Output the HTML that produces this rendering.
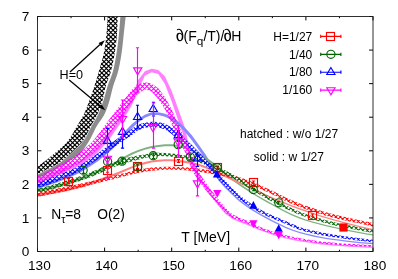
<!DOCTYPE html>
<html><head><meta charset="utf-8"><title>chart</title>
<style>
html,body{margin:0;padding:0;background:#fff;}
body{width:398px;height:279px;overflow:hidden;}
svg{display:block;will-change:transform;}
text{font-family:"Liberation Sans",sans-serif;fill:#000;}
</style></head><body>
<svg width="398" height="279" viewBox="0 0 398 279">
<defs>
<clipPath id="plot"><rect x="37.5" y="16.5" width="335.5" height="235"/></clipPath>
</defs>
<rect width="398" height="279" fill="#fff"/>
<path d="M37.50,251.50 v-3.9 M37.50,16.50 v3.9 M71.05,251.50 v-1.7 M71.05,16.50 v1.7 M104.60,251.50 v-3.9 M104.60,16.50 v3.9 M138.15,251.50 v-1.7 M138.15,16.50 v1.7 M171.70,251.50 v-3.9 M171.70,16.50 v3.9 M205.25,251.50 v-1.7 M205.25,16.50 v1.7 M238.80,251.50 v-3.9 M238.80,16.50 v3.9 M272.35,251.50 v-1.7 M272.35,16.50 v1.7 M305.90,251.50 v-3.9 M305.90,16.50 v3.9 M339.45,251.50 v-1.7 M339.45,16.50 v1.7 M373.00,251.50 v-3.9 M373.00,16.50 v3.9 M37.50,251.50 h3.9 M373.00,251.50 h-3.9 M37.50,217.93 h3.9 M373.00,217.93 h-3.9 M37.50,184.36 h3.9 M373.00,184.36 h-3.9 M37.50,150.79 h3.9 M373.00,150.79 h-3.9 M37.50,117.21 h3.9 M373.00,117.21 h-3.9 M37.50,83.64 h3.9 M373.00,83.64 h-3.9 M37.50,50.07 h3.9 M373.00,50.07 h-3.9 M37.50,16.50 h3.9 M373.00,16.50 h-3.9" stroke="#000" stroke-width="1" fill="none"/>
<g clip-path="url(#plot)">
<path d="M30.00,178.50 L32.25,177.35 L34.51,176.21 L36.77,175.07 L39.03,173.94 L41.30,172.82 L43.56,171.69 L45.81,170.54 L48.07,169.39 L50.34,168.24 L52.61,167.07 L54.84,165.88 L57.03,164.62 L59.15,163.30 L61.20,161.88 L63.20,160.36 L65.16,158.77 L67.09,157.11 L68.98,155.40 L70.85,153.66 L72.70,151.91 L74.53,150.16 L76.37,148.42 L78.23,146.67 L80.06,144.88 L81.80,143.03 L83.40,141.11 L84.82,139.09 L86.10,136.95 L87.29,134.72 L88.43,132.44 L89.54,130.13 L90.68,127.85 L91.88,125.61 L93.14,123.41 L94.43,121.23 L95.72,119.04 L96.95,116.83 L98.09,114.59 L99.13,112.30 L100.09,109.97 L100.99,107.60 L101.85,105.22 L102.67,102.82 L103.47,100.41 L104.22,98.00 L104.91,95.57 L105.57,93.13 L106.23,90.68 L106.92,88.25 L107.65,85.83 L108.49,83.44 L109.41,81.07 L110.36,78.72 L111.29,76.36 L112.14,73.98 L112.87,71.58 L113.48,69.14 L114.04,66.69 L114.57,64.22 L115.06,61.73 L115.52,59.23 L115.95,56.73 L116.35,54.23 L116.74,51.72 L117.11,49.22 L117.47,46.72 L117.80,44.22 L118.12,41.70 L118.41,39.19 L118.69,36.68 L118.94,34.16 L119.18,31.65 L119.40,29.13 L119.61,26.61 L119.81,24.09 L120.00,21.56 L120.20,19.04 L120.40,16.52 L120.60,14.00 L126.00,14.00 L125.69,16.60 L125.39,19.20 L125.10,21.81 L124.81,24.41 L124.53,27.01 L124.24,29.62 L123.96,32.22 L123.68,34.82 L123.40,37.43 L123.13,40.04 L122.86,42.64 L122.58,45.25 L122.28,47.85 L121.94,50.44 L121.57,53.04 L121.19,55.63 L120.77,58.23 L120.32,60.82 L119.85,63.40 L119.34,65.97 L118.79,68.52 L118.21,71.06 L117.52,73.57 L116.70,76.06 L115.81,78.53 L114.89,80.99 L114.01,83.47 L113.21,85.96 L112.52,88.48 L111.89,91.03 L111.28,93.58 L110.65,96.13 L109.99,98.66 L109.25,101.17 L108.47,103.68 L107.66,106.20 L106.79,108.68 L105.85,111.13 L104.83,113.51 L103.66,115.80 L102.27,118.01 L100.76,120.17 L99.21,122.32 L97.72,124.49 L96.38,126.74 L95.16,129.05 L93.99,131.40 L92.85,133.77 L91.70,136.13 L90.48,138.45 L89.18,140.71 L87.82,142.97 L86.40,145.22 L84.92,147.41 L83.34,149.48 L81.65,151.39 L79.82,153.18 L77.86,154.90 L75.80,156.55 L73.67,158.14 L71.50,159.68 L69.31,161.18 L67.14,162.64 L64.95,164.07 L62.71,165.43 L60.44,166.75 L58.15,168.04 L55.86,169.30 L53.56,170.54 L51.23,171.75 L48.90,172.94 L46.55,174.11 L44.20,175.26 L41.84,176.41 L39.48,177.55 L37.12,178.68 L34.76,179.80 L32.38,180.91 L30.00,182.00Z" fill="#8c8c8c"/>
<path d="M30.79,180.67 L37.50,178.34 L44.21,175.78 L50.92,173.08 L57.63,170.26 L64.34,167.35 L71.05,164.44 L77.76,161.39 L84.47,157.42 L91.18,152.24 L97.89,146.01 L104.60,138.23 L111.31,129.41 L118.02,119.74 L124.73,109.67 L131.44,97.24 L138.15,80.03 L144.86,71.22 L151.57,68.85 L158.28,70.02 L164.99,76.51 L171.70,91.10 L178.41,109.40 L185.12,128.25 L191.83,159.20 L198.54,174.50 L205.25,185.12 L211.96,194.48 L218.67,203.38 L225.38,211.62 L232.09,217.02 L238.80,220.19 L245.51,222.74 L252.22,225.53 L258.93,228.49 L265.64,230.96 L272.35,233.28 L279.06,235.39 L285.77,237.20 L292.48,238.63 L299.19,239.88 L305.90,241.01 L312.61,242.02 L319.32,242.89 L326.03,243.60 L332.74,244.17 L339.45,244.69 L346.16,245.19 L352.87,245.65 L359.58,246.04 L366.29,246.35 L373.00,246.56 L379.71,246.65 L379.71,247.95 L373.00,247.86 L366.29,247.65 L359.58,247.34 L352.87,246.95 L346.16,246.50 L339.45,246.00 L332.74,245.47 L326.03,244.91 L319.32,244.19 L312.61,243.33 L305.90,242.33 L299.19,241.20 L292.48,239.95 L285.77,238.53 L279.06,236.75 L272.35,234.65 L265.64,232.34 L258.93,229.89 L252.22,227.04 L245.51,224.26 L238.80,221.75 L232.09,218.71 L225.38,213.87 L218.67,205.89 L211.96,197.47 L205.25,188.54 L198.54,179.16 L191.83,167.24 L185.12,140.55 L178.41,120.88 L171.70,101.44 L164.99,84.32 L158.28,73.88 L151.57,72.35 L144.86,75.87 L138.15,90.23 L131.44,106.07 L124.73,117.03 L118.02,126.82 L111.31,136.40 L104.60,144.94 L97.89,152.19 L91.18,158.09 L84.47,162.92 L77.76,166.50 L71.05,169.44 L64.34,172.39 L57.63,175.39 L50.92,178.32 L44.21,181.10 L37.50,183.66 L30.79,185.93Z" fill="#ff80ff"/>
<path d="M30.79,187.01 L37.50,185.17 L44.21,183.09 L50.92,180.85 L57.63,178.43 L64.34,175.80 L71.05,172.94 L77.76,169.78 L84.47,165.97 L91.18,161.64 L97.89,156.73 L104.60,151.30 L111.31,145.54 L118.02,139.16 L124.73,131.59 L131.44,124.52 L138.15,118.89 L144.86,114.78 L151.57,112.20 L158.28,112.29 L164.99,113.74 L171.70,116.97 L178.41,121.59 L185.12,127.67 L191.83,135.37 L198.54,144.38 L205.25,154.04 L211.96,164.83 L218.67,177.28 L225.38,185.78 L232.09,192.48 L238.80,199.01 L245.51,204.27 L252.22,208.85 L258.93,212.90 L265.64,216.61 L272.35,220.21 L279.06,223.61 L285.77,226.72 L292.48,229.44 L299.19,231.69 L305.90,233.51 L312.61,235.10 L319.32,236.48 L326.03,237.65 L332.74,238.63 L339.45,239.55 L346.16,240.42 L352.87,241.23 L359.58,241.94 L366.29,242.54 L373.00,243.02 L379.71,243.34 L379.71,244.64 L373.00,244.32 L366.29,243.85 L359.58,243.25 L352.87,242.54 L346.16,241.73 L339.45,240.86 L332.74,239.94 L326.03,238.96 L319.32,237.80 L312.61,236.43 L305.90,234.85 L299.19,233.04 L292.48,230.83 L285.77,228.15 L279.06,225.09 L272.35,221.74 L265.64,218.18 L258.93,214.51 L252.22,210.54 L245.51,206.07 L238.80,200.99 L232.09,194.71 L225.38,188.18 L218.67,180.82 L211.96,169.81 L205.25,159.08 L198.54,149.59 L191.83,140.24 L185.12,132.02 L178.41,125.19 L171.70,120.10 L164.99,116.67 L158.28,115.00 L151.57,114.95 L144.86,117.77 L138.15,122.40 L131.44,128.61 L124.73,136.09 L118.02,143.79 L111.31,150.18 L104.60,155.85 L97.89,161.13 L91.18,165.85 L84.47,170.05 L77.76,173.70 L71.05,176.77 L64.34,179.58 L57.63,182.17 L50.92,184.56 L44.21,186.77 L37.50,188.82 L30.79,190.62Z" fill="#8888ff"/>
<path d="M30.79,191.04 L37.50,189.72 L44.21,188.21 L50.92,186.56 L57.63,184.79 L64.34,182.87 L71.05,180.80 L77.76,178.57 L84.47,176.01 L91.18,173.18 L97.89,170.23 L104.60,167.24 L111.31,164.06 L118.02,160.33 L124.73,156.20 L131.44,152.80 L138.15,149.96 L144.86,147.70 L151.57,145.89 L158.28,144.88 L164.99,144.24 L171.70,144.18 L178.41,145.02 L185.12,146.61 L191.83,149.40 L198.54,152.69 L205.25,156.82 L211.96,161.46 L218.67,166.83 L225.38,172.60 L232.09,177.95 L238.80,182.91 L245.51,187.62 L252.22,192.03 L258.93,196.17 L265.64,200.08 L272.35,203.78 L279.06,207.46 L285.77,211.03 L292.48,214.31 L299.19,217.11 L305.90,219.41 L312.61,221.44 L319.32,223.26 L326.03,224.91 L332.74,226.45 L339.45,227.93 L346.16,229.36 L352.87,230.70 L359.58,231.97 L366.29,233.13 L373.00,234.18 L379.71,235.11 L379.71,236.42 L373.00,235.49 L366.29,234.45 L359.58,233.29 L352.87,232.03 L346.16,230.68 L339.45,229.26 L332.74,227.79 L326.03,226.25 L319.32,224.60 L312.61,222.80 L305.90,220.78 L299.19,218.50 L292.48,215.75 L285.77,212.53 L279.06,209.01 L272.35,205.37 L265.64,201.71 L258.93,197.86 L252.22,193.78 L245.51,189.49 L238.80,184.94 L232.09,180.16 L225.38,175.02 L218.67,169.38 L211.96,163.95 L205.25,159.22 L198.54,154.98 L191.83,151.61 L185.12,148.73 L178.41,147.05 L171.70,146.19 L164.99,146.25 L158.28,146.90 L151.57,147.93 L144.86,149.79 L138.15,152.11 L131.44,155.01 L124.73,158.53 L118.02,162.67 L111.31,166.31 L104.60,169.58 L97.89,172.68 L91.18,175.74 L84.47,178.64 L77.76,181.22 L71.05,183.43 L64.34,185.48 L57.63,187.38 L50.92,189.14 L44.21,190.77 L37.50,192.28 L30.79,193.58Z" fill="#7fb27f"/>
<path d="M30.79,194.95 L37.50,193.67 L44.21,192.41 L50.92,191.17 L57.63,189.92 L64.34,188.59 L71.05,187.14 L77.76,185.50 L84.47,183.64 L91.18,181.58 L97.89,179.39 L104.60,177.05 L111.31,174.51 L118.02,171.93 L124.73,169.17 L131.44,166.41 L138.15,164.01 L144.86,162.07 L151.57,160.48 L158.28,159.68 L164.99,159.24 L171.70,159.37 L178.41,160.02 L185.12,160.86 L191.83,162.08 L198.54,163.71 L205.25,166.05 L211.96,168.73 L218.67,171.85 L225.38,175.24 L232.09,178.48 L238.80,181.53 L245.51,184.56 L252.22,187.66 L258.93,190.93 L265.64,194.18 L272.35,197.21 L279.06,200.07 L285.77,202.82 L292.48,205.45 L299.19,207.96 L305.90,210.36 L312.61,212.68 L319.32,214.89 L326.03,216.97 L332.74,218.90 L339.45,220.75 L346.16,222.54 L352.87,224.26 L359.58,225.91 L366.29,227.47 L373.00,228.93 L379.71,230.28 L379.71,231.61 L373.00,230.26 L366.29,228.80 L359.58,227.25 L352.87,225.60 L346.16,223.88 L339.45,222.10 L332.74,220.25 L326.03,218.33 L319.32,216.28 L312.61,214.10 L305.90,211.82 L299.19,209.45 L292.48,206.98 L285.77,204.37 L279.06,201.66 L272.35,198.83 L265.64,195.86 L258.93,192.65 L252.22,189.42 L245.51,186.35 L238.80,183.40 L232.09,180.43 L225.38,177.31 L218.67,174.01 L211.96,170.90 L205.25,168.19 L198.54,165.80 L191.83,164.12 L185.12,162.89 L178.41,162.03 L171.70,161.37 L164.99,161.24 L158.28,161.69 L151.57,162.51 L144.86,164.14 L138.15,166.11 L131.44,168.61 L124.73,171.46 L118.02,174.28 L111.31,176.96 L104.60,179.63 L97.89,182.08 L91.18,184.44 L84.47,186.66 L77.76,188.60 L71.05,190.21 L64.34,191.65 L57.63,192.97 L50.92,194.22 L44.21,195.46 L37.50,196.73 L30.79,198.00Z" fill="#ff8080"/>
<clipPath id="cr"><path d="M30.79,193.54 L37.50,192.26 L44.21,190.96 L50.92,189.68 L57.63,188.39 L64.34,187.08 L71.05,185.71 L77.76,184.27 L84.47,182.74 L91.18,181.13 L97.89,179.48 L104.60,177.82 L111.31,176.17 L118.02,174.56 L124.73,172.88 L131.44,171.22 L138.15,169.77 L144.86,168.56 L151.57,167.56 L158.28,167.04 L164.99,166.72 L171.70,166.67 L178.41,166.89 L185.12,167.25 L191.83,167.84 L198.54,168.62 L205.25,169.58 L211.96,170.68 L218.67,171.91 L225.38,173.32 L232.09,174.97 L238.80,177.01 L245.51,179.36 L252.22,181.89 L258.93,184.65 L265.64,187.63 L272.35,190.75 L279.06,194.09 L285.77,197.45 L292.48,200.59 L299.19,203.32 L305.90,205.76 L312.61,208.07 L319.32,210.23 L326.03,212.23 L332.74,214.06 L339.45,215.74 L346.16,217.30 L352.87,218.77 L359.58,220.20 L366.29,221.61 L373.00,223.04 L373.00,226.42 L366.29,224.98 L359.58,223.57 L352.87,222.15 L346.16,220.68 L339.45,219.13 L332.74,217.47 L326.03,215.66 L319.32,213.68 L312.61,211.54 L305.90,209.26 L299.19,206.85 L292.48,204.18 L285.77,201.13 L279.06,197.78 L272.35,194.42 L265.64,191.26 L258.93,188.24 L252.22,185.43 L245.51,182.88 L238.80,180.49 L232.09,178.39 L225.38,176.69 L218.67,175.23 L211.96,173.94 L205.25,172.78 L198.54,171.76 L191.83,170.95 L185.12,170.36 L178.41,170.00 L171.70,169.77 L164.99,169.82 L158.28,170.15 L151.57,170.68 L144.86,171.70 L138.15,172.93 L131.44,174.46 L124.73,176.20 L118.02,177.95 L111.31,179.63 L104.60,181.36 L97.89,183.11 L91.18,184.84 L84.47,186.53 L77.76,188.14 L71.05,189.68 L64.34,191.17 L57.63,192.63 L50.92,194.04 L44.21,195.41 L37.50,196.74 L30.79,198.02Z"/></clipPath>
<path clip-path="url(#cr)" d="M36.00,227.58L38.42,230.00M36.00,223.08L42.92,230.00M36.00,218.58L47.42,230.00M36.00,214.08L51.92,230.00M36.00,209.58L56.42,230.00M36.00,205.08L60.92,230.00M36.00,200.58L65.42,230.00M36.00,196.08L69.92,230.00M36.00,191.58L74.42,230.00M36.00,187.08L78.92,230.00M36.00,182.58L83.42,230.00M36.00,178.08L87.92,230.00M36.00,173.58L92.42,230.00M36.00,169.08L96.92,230.00M36.00,164.58L101.42,230.00M38.92,163.00L105.92,230.00M43.42,163.00L110.42,230.00M47.92,163.00L114.92,230.00M52.42,163.00L119.42,230.00M56.92,163.00L123.92,230.00M61.42,163.00L128.42,230.00M65.92,163.00L132.92,230.00M70.42,163.00L137.42,230.00M74.92,163.00L141.92,230.00M79.42,163.00L146.42,230.00M83.92,163.00L150.92,230.00M88.42,163.00L155.42,230.00M92.92,163.00L159.92,230.00M97.42,163.00L164.42,230.00M101.92,163.00L168.92,230.00M106.42,163.00L173.42,230.00M110.92,163.00L177.92,230.00M115.42,163.00L182.42,230.00M119.92,163.00L186.92,230.00M124.42,163.00L191.42,230.00M128.92,163.00L195.92,230.00M133.42,163.00L200.42,230.00M137.92,163.00L204.92,230.00M142.42,163.00L209.42,230.00M146.92,163.00L213.92,230.00M151.42,163.00L218.42,230.00M155.92,163.00L222.92,230.00M160.42,163.00L227.42,230.00M164.92,163.00L231.92,230.00M169.42,163.00L236.42,230.00M173.92,163.00L240.92,230.00M178.42,163.00L245.42,230.00M182.92,163.00L249.92,230.00M187.42,163.00L254.42,230.00M191.92,163.00L258.92,230.00M196.42,163.00L263.42,230.00M200.92,163.00L267.92,230.00M205.42,163.00L272.42,230.00M209.92,163.00L276.92,230.00M214.42,163.00L281.42,230.00M218.92,163.00L285.92,230.00M223.42,163.00L290.42,230.00M227.92,163.00L294.92,230.00M232.42,163.00L299.42,230.00M236.92,163.00L303.92,230.00M241.42,163.00L308.42,230.00M245.92,163.00L312.92,230.00M250.42,163.00L317.42,230.00M254.92,163.00L321.92,230.00M259.42,163.00L326.42,230.00M263.92,163.00L330.92,230.00M268.42,163.00L335.42,230.00M272.92,163.00L339.92,230.00M277.42,163.00L344.42,230.00M281.92,163.00L348.92,230.00M286.42,163.00L353.42,230.00M290.92,163.00L357.92,230.00M295.42,163.00L362.42,230.00M299.92,163.00L366.92,230.00M304.42,163.00L371.42,230.00M308.92,163.00L375.00,229.08M313.42,163.00L375.00,224.58M317.92,163.00L375.00,220.08M322.42,163.00L375.00,215.58M326.92,163.00L375.00,211.08M331.42,163.00L375.00,206.58M335.92,163.00L375.00,202.08M340.42,163.00L375.00,197.58M344.92,163.00L375.00,193.08M349.42,163.00L375.00,188.58M353.92,163.00L375.00,184.08M358.42,163.00L375.00,179.58M362.92,163.00L375.00,175.08M367.42,163.00L375.00,170.58M371.92,163.00L375.00,166.08M36.00,165.78L38.78,163.00M36.00,170.28L43.28,163.00M36.00,174.78L47.78,163.00M36.00,179.28L52.28,163.00M36.00,183.78L56.78,163.00M36.00,188.28L61.28,163.00M36.00,192.78L65.78,163.00M36.00,197.28L70.28,163.00M36.00,201.78L74.78,163.00M36.00,206.28L79.28,163.00M36.00,210.78L83.78,163.00M36.00,215.28L88.28,163.00M36.00,219.78L92.78,163.00M36.00,224.28L97.28,163.00M36.00,228.78L101.78,163.00M39.28,230.00L106.28,163.00M43.78,230.00L110.78,163.00M48.28,230.00L115.28,163.00M52.78,230.00L119.78,163.00M57.28,230.00L124.28,163.00M61.78,230.00L128.78,163.00M66.28,230.00L133.28,163.00M70.78,230.00L137.78,163.00M75.28,230.00L142.28,163.00M79.78,230.00L146.78,163.00M84.28,230.00L151.28,163.00M88.78,230.00L155.78,163.00M93.28,230.00L160.28,163.00M97.78,230.00L164.78,163.00M102.28,230.00L169.28,163.00M106.78,230.00L173.78,163.00M111.28,230.00L178.28,163.00M115.78,230.00L182.78,163.00M120.28,230.00L187.28,163.00M124.78,230.00L191.78,163.00M129.28,230.00L196.28,163.00M133.78,230.00L200.78,163.00M138.28,230.00L205.28,163.00M142.78,230.00L209.78,163.00M147.28,230.00L214.28,163.00M151.78,230.00L218.78,163.00M156.28,230.00L223.28,163.00M160.78,230.00L227.78,163.00M165.28,230.00L232.28,163.00M169.78,230.00L236.78,163.00M174.28,230.00L241.28,163.00M178.78,230.00L245.78,163.00M183.28,230.00L250.28,163.00M187.78,230.00L254.78,163.00M192.28,230.00L259.28,163.00M196.78,230.00L263.78,163.00M201.28,230.00L268.28,163.00M205.78,230.00L272.78,163.00M210.28,230.00L277.28,163.00M214.78,230.00L281.78,163.00M219.28,230.00L286.28,163.00M223.78,230.00L290.78,163.00M228.28,230.00L295.28,163.00M232.78,230.00L299.78,163.00M237.28,230.00L304.28,163.00M241.78,230.00L308.78,163.00M246.28,230.00L313.28,163.00M250.78,230.00L317.78,163.00M255.28,230.00L322.28,163.00M259.78,230.00L326.78,163.00M264.28,230.00L331.28,163.00M268.78,230.00L335.78,163.00M273.28,230.00L340.28,163.00M277.78,230.00L344.78,163.00M282.28,230.00L349.28,163.00M286.78,230.00L353.78,163.00M291.28,230.00L358.28,163.00M295.78,230.00L362.78,163.00M300.28,230.00L367.28,163.00M304.78,230.00L371.78,163.00M309.28,230.00L375.00,164.28M313.78,230.00L375.00,168.78M318.28,230.00L375.00,173.28M322.78,230.00L375.00,177.78M327.28,230.00L375.00,182.28M331.78,230.00L375.00,186.78M336.28,230.00L375.00,191.28M340.78,230.00L375.00,195.78M345.28,230.00L375.00,200.28M349.78,230.00L375.00,204.78M354.28,230.00L375.00,209.28M358.78,230.00L375.00,213.78M363.28,230.00L375.00,218.28M367.78,230.00L375.00,222.78M372.28,230.00L375.00,227.28" stroke="#ff0000" stroke-width="1.05" fill="none"/>
<clipPath id="cg"><path d="M30.79,189.78 L37.50,188.45 L44.21,186.91 L50.92,185.20 L57.63,183.35 L64.34,181.37 L71.05,179.28 L77.76,177.09 L84.47,174.65 L91.18,172.00 L97.89,169.15 L104.60,165.97 L111.31,163.15 L118.02,160.58 L124.73,158.41 L131.44,156.71 L138.15,155.46 L144.86,154.38 L151.57,153.14 L158.28,152.66 L164.99,153.01 L171.70,153.54 L178.41,154.34 L185.12,155.44 L191.83,156.89 L198.54,158.74 L205.25,161.13 L211.96,164.03 L218.67,167.39 L225.38,170.57 L232.09,173.90 L238.80,177.99 L245.51,182.45 L252.22,186.75 L258.93,190.86 L265.64,194.71 L272.35,198.35 L279.06,201.90 L285.77,205.30 L292.48,208.50 L299.19,211.46 L305.90,213.94 L312.61,216.21 L319.32,218.29 L326.03,220.18 L332.74,221.87 L339.45,223.41 L346.16,224.81 L352.87,226.12 L359.58,227.39 L366.29,228.63 L373.00,229.89 L379.71,231.12 L379.71,234.17 L373.00,232.94 L366.29,231.68 L359.58,230.44 L352.87,229.18 L346.16,227.87 L339.45,226.48 L332.74,224.96 L326.03,223.28 L319.32,221.42 L312.61,219.36 L305.90,217.12 L299.19,214.68 L292.48,211.81 L285.77,208.64 L279.06,205.27 L272.35,201.75 L265.64,198.14 L258.93,194.34 L252.22,190.36 L245.51,186.21 L238.80,181.81 L232.09,177.66 L225.38,174.31 L218.67,171.30 L211.96,167.82 L205.25,164.80 L198.54,162.31 L191.83,160.31 L185.12,158.74 L178.41,157.57 L171.70,156.75 L164.99,156.23 L158.28,155.95 L151.57,156.61 L144.86,158.11 L138.15,159.67 L131.44,161.41 L124.73,163.20 L118.02,165.49 L111.31,168.11 L104.60,171.05 L97.89,174.19 L91.18,176.93 L84.47,179.46 L77.76,181.75 L71.05,183.83 L64.34,185.81 L57.63,187.67 L50.92,189.42 L44.21,191.04 L37.50,192.55 L30.79,193.84Z"/></clipPath>
<path clip-path="url(#cg)" d="M36.00,232.08L39.92,236.00M36.00,227.58L44.42,236.00M36.00,223.08L48.92,236.00M36.00,218.58L53.42,236.00M36.00,214.08L57.92,236.00M36.00,209.58L62.42,236.00M36.00,205.08L66.92,236.00M36.00,200.58L71.42,236.00M36.00,196.08L75.92,236.00M36.00,191.58L80.42,236.00M36.00,187.08L84.92,236.00M36.00,182.58L89.42,236.00M36.00,178.08L93.92,236.00M36.00,173.58L98.42,236.00M36.00,169.08L102.92,236.00M36.00,164.58L107.42,236.00M36.00,160.08L111.92,236.00M36.00,155.58L116.42,236.00M36.00,151.08L120.92,236.00M37.42,148.00L125.42,236.00M41.92,148.00L129.92,236.00M46.42,148.00L134.42,236.00M50.92,148.00L138.92,236.00M55.42,148.00L143.42,236.00M59.92,148.00L147.92,236.00M64.42,148.00L152.42,236.00M68.92,148.00L156.92,236.00M73.42,148.00L161.42,236.00M77.92,148.00L165.92,236.00M82.42,148.00L170.42,236.00M86.92,148.00L174.92,236.00M91.42,148.00L179.42,236.00M95.92,148.00L183.92,236.00M100.42,148.00L188.42,236.00M104.92,148.00L192.92,236.00M109.42,148.00L197.42,236.00M113.92,148.00L201.92,236.00M118.42,148.00L206.42,236.00M122.92,148.00L210.92,236.00M127.42,148.00L215.42,236.00M131.92,148.00L219.92,236.00M136.42,148.00L224.42,236.00M140.92,148.00L228.92,236.00M145.42,148.00L233.42,236.00M149.92,148.00L237.92,236.00M154.42,148.00L242.42,236.00M158.92,148.00L246.92,236.00M163.42,148.00L251.42,236.00M167.92,148.00L255.92,236.00M172.42,148.00L260.42,236.00M176.92,148.00L264.92,236.00M181.42,148.00L269.42,236.00M185.92,148.00L273.92,236.00M190.42,148.00L278.42,236.00M194.92,148.00L282.92,236.00M199.42,148.00L287.42,236.00M203.92,148.00L291.92,236.00M208.42,148.00L296.42,236.00M212.92,148.00L300.92,236.00M217.42,148.00L305.42,236.00M221.92,148.00L309.92,236.00M226.42,148.00L314.42,236.00M230.92,148.00L318.92,236.00M235.42,148.00L323.42,236.00M239.92,148.00L327.92,236.00M244.42,148.00L332.42,236.00M248.92,148.00L336.92,236.00M253.42,148.00L341.42,236.00M257.92,148.00L345.92,236.00M262.42,148.00L350.42,236.00M266.92,148.00L354.92,236.00M271.42,148.00L359.42,236.00M275.92,148.00L363.92,236.00M280.42,148.00L368.42,236.00M284.92,148.00L372.92,236.00M289.42,148.00L375.00,233.58M293.92,148.00L375.00,229.08M298.42,148.00L375.00,224.58M302.92,148.00L375.00,220.08M307.42,148.00L375.00,215.58M311.92,148.00L375.00,211.08M316.42,148.00L375.00,206.58M320.92,148.00L375.00,202.08M325.42,148.00L375.00,197.58M329.92,148.00L375.00,193.08M334.42,148.00L375.00,188.58M338.92,148.00L375.00,184.08M343.42,148.00L375.00,179.58M347.92,148.00L375.00,175.08M352.42,148.00L375.00,170.58M356.92,148.00L375.00,166.08M361.42,148.00L375.00,161.58M365.92,148.00L375.00,157.08M370.42,148.00L375.00,152.58M374.92,148.00L375.00,148.08M36.00,152.28L40.28,148.00M36.00,156.78L44.78,148.00M36.00,161.28L49.28,148.00M36.00,165.78L53.78,148.00M36.00,170.28L58.28,148.00M36.00,174.78L62.78,148.00M36.00,179.28L67.28,148.00M36.00,183.78L71.78,148.00M36.00,188.28L76.28,148.00M36.00,192.78L80.78,148.00M36.00,197.28L85.28,148.00M36.00,201.78L89.78,148.00M36.00,206.28L94.28,148.00M36.00,210.78L98.78,148.00M36.00,215.28L103.28,148.00M36.00,219.78L107.78,148.00M36.00,224.28L112.28,148.00M36.00,228.78L116.78,148.00M36.00,233.28L121.28,148.00M37.78,236.00L125.78,148.00M42.28,236.00L130.28,148.00M46.78,236.00L134.78,148.00M51.28,236.00L139.28,148.00M55.78,236.00L143.78,148.00M60.28,236.00L148.28,148.00M64.78,236.00L152.78,148.00M69.28,236.00L157.28,148.00M73.78,236.00L161.78,148.00M78.28,236.00L166.28,148.00M82.78,236.00L170.78,148.00M87.28,236.00L175.28,148.00M91.78,236.00L179.78,148.00M96.28,236.00L184.28,148.00M100.78,236.00L188.78,148.00M105.28,236.00L193.28,148.00M109.78,236.00L197.78,148.00M114.28,236.00L202.28,148.00M118.78,236.00L206.78,148.00M123.28,236.00L211.28,148.00M127.78,236.00L215.78,148.00M132.28,236.00L220.28,148.00M136.78,236.00L224.78,148.00M141.28,236.00L229.28,148.00M145.78,236.00L233.78,148.00M150.28,236.00L238.28,148.00M154.78,236.00L242.78,148.00M159.28,236.00L247.28,148.00M163.78,236.00L251.78,148.00M168.28,236.00L256.28,148.00M172.78,236.00L260.78,148.00M177.28,236.00L265.28,148.00M181.78,236.00L269.78,148.00M186.28,236.00L274.28,148.00M190.78,236.00L278.78,148.00M195.28,236.00L283.28,148.00M199.78,236.00L287.78,148.00M204.28,236.00L292.28,148.00M208.78,236.00L296.78,148.00M213.28,236.00L301.28,148.00M217.78,236.00L305.78,148.00M222.28,236.00L310.28,148.00M226.78,236.00L314.78,148.00M231.28,236.00L319.28,148.00M235.78,236.00L323.78,148.00M240.28,236.00L328.28,148.00M244.78,236.00L332.78,148.00M249.28,236.00L337.28,148.00M253.78,236.00L341.78,148.00M258.28,236.00L346.28,148.00M262.78,236.00L350.78,148.00M267.28,236.00L355.28,148.00M271.78,236.00L359.78,148.00M276.28,236.00L364.28,148.00M280.78,236.00L368.78,148.00M285.28,236.00L373.28,148.00M289.78,236.00L375.00,150.78M294.28,236.00L375.00,155.28M298.78,236.00L375.00,159.78M303.28,236.00L375.00,164.28M307.78,236.00L375.00,168.78M312.28,236.00L375.00,173.28M316.78,236.00L375.00,177.78M321.28,236.00L375.00,182.28M325.78,236.00L375.00,186.78M330.28,236.00L375.00,191.28M334.78,236.00L375.00,195.78M339.28,236.00L375.00,200.28M343.78,236.00L375.00,204.78M348.28,236.00L375.00,209.28M352.78,236.00L375.00,213.78M357.28,236.00L375.00,218.28M361.78,236.00L375.00,222.78M366.28,236.00L375.00,227.28M370.78,236.00L375.00,231.78" stroke="#006400" stroke-width="1.05" fill="none"/>
<clipPath id="cb"><path d="M30.79,183.83 L37.50,181.97 L44.21,179.87 L50.92,177.62 L57.63,175.18 L64.34,172.53 L71.05,169.63 L77.76,166.39 L84.47,162.45 L91.18,158.05 L97.89,153.16 L104.60,147.97 L111.31,142.87 L118.02,138.16 L124.73,133.68 L131.44,129.01 L138.15,124.62 L144.86,122.69 L151.57,121.81 L158.28,122.12 L164.99,123.74 L171.70,127.61 L178.41,132.93 L185.12,138.78 L191.83,144.96 L198.54,151.80 L205.25,158.82 L211.96,165.81 L218.67,173.23 L225.38,181.07 L232.09,187.91 L238.80,194.38 L245.51,199.77 L252.22,204.39 L258.93,208.75 L265.64,212.30 L272.35,215.39 L279.06,218.24 L285.77,221.02 L292.48,223.95 L299.19,226.95 L305.90,228.95 L312.61,230.61 L319.32,232.04 L326.03,233.29 L332.74,234.44 L339.45,235.49 L346.16,236.46 L352.87,237.35 L359.58,238.19 L366.29,238.98 L373.00,239.76 L379.71,240.46 L379.71,243.08 L373.00,242.38 L366.29,241.60 L359.58,240.81 L352.87,239.97 L346.16,239.08 L339.45,238.12 L332.74,237.07 L326.03,235.93 L319.32,234.69 L312.61,233.28 L305.90,231.64 L299.19,229.70 L292.48,226.90 L285.77,223.99 L279.06,221.26 L272.35,218.51 L265.64,215.55 L258.93,212.22 L252.22,208.16 L245.51,203.77 L238.80,199.05 L232.09,193.14 L225.38,186.64 L218.67,179.69 L211.96,172.10 L205.25,165.32 L198.54,158.67 L191.83,152.15 L185.12,145.81 L178.41,139.80 L171.70,133.88 L164.99,129.39 L158.28,127.14 L151.57,126.81 L144.86,127.83 L138.15,130.34 L131.44,135.46 L124.73,139.83 L118.02,144.24 L111.31,149.04 L104.60,154.13 L97.89,159.18 L91.18,163.83 L84.47,168.29 L77.76,172.22 L71.05,175.46 L64.34,178.43 L57.63,181.16 L50.92,183.65 L44.21,185.94 L37.50,188.02 L30.79,189.81Z"/></clipPath>
<path clip-path="url(#cb)" d="M36.00,241.08L39.92,245.00M36.00,236.58L44.42,245.00M36.00,232.08L48.92,245.00M36.00,227.58L53.42,245.00M36.00,223.08L57.92,245.00M36.00,218.58L62.42,245.00M36.00,214.08L66.92,245.00M36.00,209.58L71.42,245.00M36.00,205.08L75.92,245.00M36.00,200.58L80.42,245.00M36.00,196.08L84.92,245.00M36.00,191.58L89.42,245.00M36.00,187.08L93.92,245.00M36.00,182.58L98.42,245.00M36.00,178.08L102.92,245.00M36.00,173.58L107.42,245.00M36.00,169.08L111.92,245.00M36.00,164.58L116.42,245.00M36.00,160.08L120.92,245.00M36.00,155.58L125.42,245.00M36.00,151.08L129.92,245.00M36.00,146.58L134.42,245.00M36.00,142.08L138.92,245.00M36.00,137.58L143.42,245.00M36.00,133.08L147.92,245.00M36.00,128.58L152.42,245.00M36.00,124.08L156.92,245.00M36.00,119.58L161.42,245.00M36.00,115.08L165.92,245.00M40.42,115.00L170.42,245.00M44.92,115.00L174.92,245.00M49.42,115.00L179.42,245.00M53.92,115.00L183.92,245.00M58.42,115.00L188.42,245.00M62.92,115.00L192.92,245.00M67.42,115.00L197.42,245.00M71.92,115.00L201.92,245.00M76.42,115.00L206.42,245.00M80.92,115.00L210.92,245.00M85.42,115.00L215.42,245.00M89.92,115.00L219.92,245.00M94.42,115.00L224.42,245.00M98.92,115.00L228.92,245.00M103.42,115.00L233.42,245.00M107.92,115.00L237.92,245.00M112.42,115.00L242.42,245.00M116.92,115.00L246.92,245.00M121.42,115.00L251.42,245.00M125.92,115.00L255.92,245.00M130.42,115.00L260.42,245.00M134.92,115.00L264.92,245.00M139.42,115.00L269.42,245.00M143.92,115.00L273.92,245.00M148.42,115.00L278.42,245.00M152.92,115.00L282.92,245.00M157.42,115.00L287.42,245.00M161.92,115.00L291.92,245.00M166.42,115.00L296.42,245.00M170.92,115.00L300.92,245.00M175.42,115.00L305.42,245.00M179.92,115.00L309.92,245.00M184.42,115.00L314.42,245.00M188.92,115.00L318.92,245.00M193.42,115.00L323.42,245.00M197.92,115.00L327.92,245.00M202.42,115.00L332.42,245.00M206.92,115.00L336.92,245.00M211.42,115.00L341.42,245.00M215.92,115.00L345.92,245.00M220.42,115.00L350.42,245.00M224.92,115.00L354.92,245.00M229.42,115.00L359.42,245.00M233.92,115.00L363.92,245.00M238.42,115.00L368.42,245.00M242.92,115.00L372.92,245.00M247.42,115.00L375.00,242.58M251.92,115.00L375.00,238.08M256.42,115.00L375.00,233.58M260.92,115.00L375.00,229.08M265.42,115.00L375.00,224.58M269.92,115.00L375.00,220.08M274.42,115.00L375.00,215.58M278.92,115.00L375.00,211.08M283.42,115.00L375.00,206.58M287.92,115.00L375.00,202.08M292.42,115.00L375.00,197.58M296.92,115.00L375.00,193.08M301.42,115.00L375.00,188.58M305.92,115.00L375.00,184.08M310.42,115.00L375.00,179.58M314.92,115.00L375.00,175.08M319.42,115.00L375.00,170.58M323.92,115.00L375.00,166.08M328.42,115.00L375.00,161.58M332.92,115.00L375.00,157.08M337.42,115.00L375.00,152.58M341.92,115.00L375.00,148.08M346.42,115.00L375.00,143.58M350.92,115.00L375.00,139.08M355.42,115.00L375.00,134.58M359.92,115.00L375.00,130.08M364.42,115.00L375.00,125.58M368.92,115.00L375.00,121.08M373.42,115.00L375.00,116.58M36.00,116.28L37.28,115.00M36.00,120.78L41.78,115.00M36.00,125.28L46.28,115.00M36.00,129.78L50.78,115.00M36.00,134.28L55.28,115.00M36.00,138.78L59.78,115.00M36.00,143.28L64.28,115.00M36.00,147.78L68.78,115.00M36.00,152.28L73.28,115.00M36.00,156.78L77.78,115.00M36.00,161.28L82.28,115.00M36.00,165.78L86.78,115.00M36.00,170.28L91.28,115.00M36.00,174.78L95.78,115.00M36.00,179.28L100.28,115.00M36.00,183.78L104.78,115.00M36.00,188.28L109.28,115.00M36.00,192.78L113.78,115.00M36.00,197.28L118.28,115.00M36.00,201.78L122.78,115.00M36.00,206.28L127.28,115.00M36.00,210.78L131.78,115.00M36.00,215.28L136.28,115.00M36.00,219.78L140.78,115.00M36.00,224.28L145.28,115.00M36.00,228.78L149.78,115.00M36.00,233.28L154.28,115.00M36.00,237.78L158.78,115.00M36.00,242.28L163.28,115.00M37.78,245.00L167.78,115.00M42.28,245.00L172.28,115.00M46.78,245.00L176.78,115.00M51.28,245.00L181.28,115.00M55.78,245.00L185.78,115.00M60.28,245.00L190.28,115.00M64.78,245.00L194.78,115.00M69.28,245.00L199.28,115.00M73.78,245.00L203.78,115.00M78.28,245.00L208.28,115.00M82.78,245.00L212.78,115.00M87.28,245.00L217.28,115.00M91.78,245.00L221.78,115.00M96.28,245.00L226.28,115.00M100.78,245.00L230.78,115.00M105.28,245.00L235.28,115.00M109.78,245.00L239.78,115.00M114.28,245.00L244.28,115.00M118.78,245.00L248.78,115.00M123.28,245.00L253.28,115.00M127.78,245.00L257.78,115.00M132.28,245.00L262.28,115.00M136.78,245.00L266.78,115.00M141.28,245.00L271.28,115.00M145.78,245.00L275.78,115.00M150.28,245.00L280.28,115.00M154.78,245.00L284.78,115.00M159.28,245.00L289.28,115.00M163.78,245.00L293.78,115.00M168.28,245.00L298.28,115.00M172.78,245.00L302.78,115.00M177.28,245.00L307.28,115.00M181.78,245.00L311.78,115.00M186.28,245.00L316.28,115.00M190.78,245.00L320.78,115.00M195.28,245.00L325.28,115.00M199.78,245.00L329.78,115.00M204.28,245.00L334.28,115.00M208.78,245.00L338.78,115.00M213.28,245.00L343.28,115.00M217.78,245.00L347.78,115.00M222.28,245.00L352.28,115.00M226.78,245.00L356.78,115.00M231.28,245.00L361.28,115.00M235.78,245.00L365.78,115.00M240.28,245.00L370.28,115.00M244.78,245.00L374.78,115.00M249.28,245.00L375.00,119.28M253.78,245.00L375.00,123.78M258.28,245.00L375.00,128.28M262.78,245.00L375.00,132.78M267.28,245.00L375.00,137.28M271.78,245.00L375.00,141.78M276.28,245.00L375.00,146.28M280.78,245.00L375.00,150.78M285.28,245.00L375.00,155.28M289.78,245.00L375.00,159.78M294.28,245.00L375.00,164.28M298.78,245.00L375.00,168.78M303.28,245.00L375.00,173.28M307.78,245.00L375.00,177.78M312.28,245.00L375.00,182.28M316.78,245.00L375.00,186.78M321.28,245.00L375.00,191.28M325.78,245.00L375.00,195.78M330.28,245.00L375.00,200.28M334.78,245.00L375.00,204.78M339.28,245.00L375.00,209.28M343.78,245.00L375.00,213.78M348.28,245.00L375.00,218.28M352.78,245.00L375.00,222.78M357.28,245.00L375.00,227.28M361.78,245.00L375.00,231.78M366.28,245.00L375.00,236.28M370.78,245.00L375.00,240.78" stroke="#0000ff" stroke-width="1.05" fill="none"/>
<clipPath id="cm"><path d="M30.79,178.93 L37.50,176.31 L44.21,173.23 L50.92,169.78 L57.63,166.07 L64.34,162.22 L71.05,158.24 L77.76,153.86 L84.47,148.87 L91.18,143.00 L97.89,135.01 L104.60,125.79 L111.31,116.72 L118.02,107.94 L124.73,98.79 L131.44,90.02 L138.15,84.51 L144.86,82.27 L151.57,83.43 L158.28,88.23 L164.99,97.12 L171.70,109.49 L178.41,124.64 L185.12,139.55 L191.83,155.07 L198.54,171.49 L205.25,182.08 L211.96,191.15 L218.67,199.77 L225.38,207.74 L232.09,214.11 L238.80,217.45 L245.51,220.01 L252.22,222.95 L258.93,226.43 L265.64,229.08 L272.35,231.43 L279.06,233.50 L285.77,235.28 L292.48,236.74 L299.19,238.03 L305.90,239.21 L312.61,240.26 L319.32,241.18 L326.03,241.96 L332.74,242.59 L339.45,243.14 L346.16,243.63 L352.87,244.07 L359.58,244.46 L366.29,244.81 L373.00,245.13 L379.71,245.39 L379.71,247.19 L373.00,246.93 L366.29,246.61 L359.58,246.27 L352.87,245.90 L346.16,245.48 L339.45,245.02 L332.74,244.49 L326.03,243.88 L319.32,243.13 L312.61,242.25 L305.90,241.24 L299.19,240.11 L292.48,238.86 L285.77,237.46 L279.06,235.77 L272.35,233.79 L265.64,231.55 L258.93,229.07 L252.22,225.81 L245.51,222.91 L238.80,220.58 L232.09,217.72 L225.38,212.80 L218.67,205.39 L211.96,197.69 L205.25,189.49 L198.54,180.83 L191.83,170.09 L185.12,152.36 L178.41,139.53 L171.70,124.23 L164.99,109.30 L158.28,99.27 L151.57,91.50 L144.86,89.37 L138.15,93.43 L131.44,102.69 L124.73,113.05 L118.02,122.39 L111.31,131.80 L104.60,141.10 L97.89,149.02 L91.18,154.92 L84.47,159.88 L77.76,164.16 L71.05,167.89 L64.34,171.41 L57.63,174.73 L50.92,177.88 L44.21,180.86 L37.50,183.67 L30.79,186.14Z"/></clipPath>
<path clip-path="url(#cm)" d="M36.00,245.58L40.42,250.00M36.00,241.08L44.92,250.00M36.00,236.58L49.42,250.00M36.00,232.08L53.92,250.00M36.00,227.58L58.42,250.00M36.00,223.08L62.92,250.00M36.00,218.58L67.42,250.00M36.00,214.08L71.92,250.00M36.00,209.58L76.42,250.00M36.00,205.08L80.92,250.00M36.00,200.58L85.42,250.00M36.00,196.08L89.92,250.00M36.00,191.58L94.42,250.00M36.00,187.08L98.92,250.00M36.00,182.58L103.42,250.00M36.00,178.08L107.92,250.00M36.00,173.58L112.42,250.00M36.00,169.08L116.92,250.00M36.00,164.58L121.42,250.00M36.00,160.08L125.92,250.00M36.00,155.58L130.42,250.00M36.00,151.08L134.92,250.00M36.00,146.58L139.42,250.00M36.00,142.08L143.92,250.00M36.00,137.58L148.42,250.00M36.00,133.08L152.92,250.00M36.00,128.58L157.42,250.00M36.00,124.08L161.92,250.00M36.00,119.58L166.42,250.00M36.00,115.08L170.92,250.00M36.00,110.58L175.42,250.00M36.00,106.08L179.92,250.00M36.00,101.58L184.42,250.00M36.00,97.08L188.92,250.00M36.00,92.58L193.42,250.00M36.00,88.08L197.92,250.00M36.00,83.58L202.42,250.00M36.00,79.08L206.92,250.00M36.42,75.00L211.42,250.00M40.92,75.00L215.92,250.00M45.42,75.00L220.42,250.00M49.92,75.00L224.92,250.00M54.42,75.00L229.42,250.00M58.92,75.00L233.92,250.00M63.42,75.00L238.42,250.00M67.92,75.00L242.92,250.00M72.42,75.00L247.42,250.00M76.92,75.00L251.92,250.00M81.42,75.00L256.42,250.00M85.92,75.00L260.92,250.00M90.42,75.00L265.42,250.00M94.92,75.00L269.92,250.00M99.42,75.00L274.42,250.00M103.92,75.00L278.92,250.00M108.42,75.00L283.42,250.00M112.92,75.00L287.92,250.00M117.42,75.00L292.42,250.00M121.92,75.00L296.92,250.00M126.42,75.00L301.42,250.00M130.92,75.00L305.92,250.00M135.42,75.00L310.42,250.00M139.92,75.00L314.92,250.00M144.42,75.00L319.42,250.00M148.92,75.00L323.92,250.00M153.42,75.00L328.42,250.00M157.92,75.00L332.92,250.00M162.42,75.00L337.42,250.00M166.92,75.00L341.92,250.00M171.42,75.00L346.42,250.00M175.92,75.00L350.92,250.00M180.42,75.00L355.42,250.00M184.92,75.00L359.92,250.00M189.42,75.00L364.42,250.00M193.92,75.00L368.92,250.00M198.42,75.00L373.42,250.00M202.92,75.00L375.00,247.08M207.42,75.00L375.00,242.58M211.92,75.00L375.00,238.08M216.42,75.00L375.00,233.58M220.92,75.00L375.00,229.08M225.42,75.00L375.00,224.58M229.92,75.00L375.00,220.08M234.42,75.00L375.00,215.58M238.92,75.00L375.00,211.08M243.42,75.00L375.00,206.58M247.92,75.00L375.00,202.08M252.42,75.00L375.00,197.58M256.92,75.00L375.00,193.08M261.42,75.00L375.00,188.58M265.92,75.00L375.00,184.08M270.42,75.00L375.00,179.58M274.92,75.00L375.00,175.08M279.42,75.00L375.00,170.58M283.92,75.00L375.00,166.08M288.42,75.00L375.00,161.58M292.92,75.00L375.00,157.08M297.42,75.00L375.00,152.58M301.92,75.00L375.00,148.08M306.42,75.00L375.00,143.58M310.92,75.00L375.00,139.08M315.42,75.00L375.00,134.58M319.92,75.00L375.00,130.08M324.42,75.00L375.00,125.58M328.92,75.00L375.00,121.08M333.42,75.00L375.00,116.58M337.92,75.00L375.00,112.08M342.42,75.00L375.00,107.58M346.92,75.00L375.00,103.08M351.42,75.00L375.00,98.58M355.92,75.00L375.00,94.08M360.42,75.00L375.00,89.58M364.92,75.00L375.00,85.08M369.42,75.00L375.00,80.58M373.92,75.00L375.00,76.08M36.00,75.78L36.78,75.00M36.00,80.28L41.28,75.00M36.00,84.78L45.78,75.00M36.00,89.28L50.28,75.00M36.00,93.78L54.78,75.00M36.00,98.28L59.28,75.00M36.00,102.78L63.78,75.00M36.00,107.28L68.28,75.00M36.00,111.78L72.78,75.00M36.00,116.28L77.28,75.00M36.00,120.78L81.78,75.00M36.00,125.28L86.28,75.00M36.00,129.78L90.78,75.00M36.00,134.28L95.28,75.00M36.00,138.78L99.78,75.00M36.00,143.28L104.28,75.00M36.00,147.78L108.78,75.00M36.00,152.28L113.28,75.00M36.00,156.78L117.78,75.00M36.00,161.28L122.28,75.00M36.00,165.78L126.78,75.00M36.00,170.28L131.28,75.00M36.00,174.78L135.78,75.00M36.00,179.28L140.28,75.00M36.00,183.78L144.78,75.00M36.00,188.28L149.28,75.00M36.00,192.78L153.78,75.00M36.00,197.28L158.28,75.00M36.00,201.78L162.78,75.00M36.00,206.28L167.28,75.00M36.00,210.78L171.78,75.00M36.00,215.28L176.28,75.00M36.00,219.78L180.78,75.00M36.00,224.28L185.28,75.00M36.00,228.78L189.78,75.00M36.00,233.28L194.28,75.00M36.00,237.78L198.78,75.00M36.00,242.28L203.28,75.00M36.00,246.78L207.78,75.00M37.28,250.00L212.28,75.00M41.78,250.00L216.78,75.00M46.28,250.00L221.28,75.00M50.78,250.00L225.78,75.00M55.28,250.00L230.28,75.00M59.78,250.00L234.78,75.00M64.28,250.00L239.28,75.00M68.78,250.00L243.78,75.00M73.28,250.00L248.28,75.00M77.78,250.00L252.78,75.00M82.28,250.00L257.28,75.00M86.78,250.00L261.78,75.00M91.28,250.00L266.28,75.00M95.78,250.00L270.78,75.00M100.28,250.00L275.28,75.00M104.78,250.00L279.78,75.00M109.28,250.00L284.28,75.00M113.78,250.00L288.78,75.00M118.28,250.00L293.28,75.00M122.78,250.00L297.78,75.00M127.28,250.00L302.28,75.00M131.78,250.00L306.78,75.00M136.28,250.00L311.28,75.00M140.78,250.00L315.78,75.00M145.28,250.00L320.28,75.00M149.78,250.00L324.78,75.00M154.28,250.00L329.28,75.00M158.78,250.00L333.78,75.00M163.28,250.00L338.28,75.00M167.78,250.00L342.78,75.00M172.28,250.00L347.28,75.00M176.78,250.00L351.78,75.00M181.28,250.00L356.28,75.00M185.78,250.00L360.78,75.00M190.28,250.00L365.28,75.00M194.78,250.00L369.78,75.00M199.28,250.00L374.28,75.00M203.78,250.00L375.00,78.78M208.28,250.00L375.00,83.28M212.78,250.00L375.00,87.78M217.28,250.00L375.00,92.28M221.78,250.00L375.00,96.78M226.28,250.00L375.00,101.28M230.78,250.00L375.00,105.78M235.28,250.00L375.00,110.28M239.78,250.00L375.00,114.78M244.28,250.00L375.00,119.28M248.78,250.00L375.00,123.78M253.28,250.00L375.00,128.28M257.78,250.00L375.00,132.78M262.28,250.00L375.00,137.28M266.78,250.00L375.00,141.78M271.28,250.00L375.00,146.28M275.78,250.00L375.00,150.78M280.28,250.00L375.00,155.28M284.78,250.00L375.00,159.78M289.28,250.00L375.00,164.28M293.78,250.00L375.00,168.78M298.28,250.00L375.00,173.28M302.78,250.00L375.00,177.78M307.28,250.00L375.00,182.28M311.78,250.00L375.00,186.78M316.28,250.00L375.00,191.28M320.78,250.00L375.00,195.78M325.28,250.00L375.00,200.28M329.78,250.00L375.00,204.78M334.28,250.00L375.00,209.28M338.78,250.00L375.00,213.78M343.28,250.00L375.00,218.28M347.78,250.00L375.00,222.78M352.28,250.00L375.00,227.28M356.78,250.00L375.00,231.78M361.28,250.00L375.00,236.28M365.78,250.00L375.00,240.78M370.28,250.00L375.00,245.28M374.78,250.00L375.00,249.78" stroke="#ff00ff" stroke-width="1.05" fill="none"/>
<clipPath id="ck"><path d="M30.00,171.50 L31.97,170.27 L33.93,169.01 L35.87,167.72 L37.78,166.41 L39.67,165.06 L41.54,163.69 L43.41,162.30 L45.26,160.88 L47.09,159.45 L48.91,158.00 L50.72,156.54 L52.51,155.06 L54.31,153.59 L56.14,152.11 L57.96,150.62 L59.77,149.11 L61.54,147.57 L63.25,145.99 L64.89,144.37 L66.44,142.69 L67.88,140.95 L69.24,139.11 L70.53,137.20 L71.76,135.22 L72.96,133.20 L74.13,131.16 L75.29,129.12 L76.46,127.09 L77.65,125.09 L78.86,123.09 L80.07,121.10 L81.26,119.10 L82.42,117.07 L83.51,115.03 L84.52,112.95 L85.45,110.84 L86.32,108.69 L87.14,106.51 L87.94,104.32 L88.73,102.13 L89.52,99.94 L90.32,97.76 L91.11,95.57 L91.89,93.38 L92.66,91.19 L93.41,88.99 L94.14,86.78 L94.86,84.57 L95.56,82.36 L96.25,80.14 L96.92,77.91 L97.58,75.68 L98.23,73.45 L98.87,71.22 L99.50,68.98 L100.16,66.74 L100.81,64.51 L101.46,62.27 L102.09,60.02 L102.69,57.78 L103.26,55.52 L103.77,53.26 L104.22,50.99 L104.62,48.71 L104.98,46.42 L105.31,44.12 L105.62,41.81 L105.90,39.50 L106.15,37.19 L106.38,34.87 L106.58,32.56 L106.76,30.24 L106.93,27.93 L107.09,25.61 L107.24,23.29 L107.37,20.96 L107.50,18.64 L107.61,16.32 L107.70,14.00 L117.80,14.00 L117.70,16.51 L117.61,19.02 L117.52,21.54 L117.44,24.05 L117.36,26.56 L117.27,29.07 L117.16,31.58 L117.03,34.09 L116.86,36.59 L116.63,39.10 L116.35,41.60 L116.04,44.09 L115.69,46.59 L115.33,49.07 L114.97,51.56 L114.57,54.04 L114.15,56.52 L113.70,59.00 L113.21,61.48 L112.69,63.94 L112.15,66.39 L111.57,68.83 L110.96,71.26 L110.24,73.65 L109.41,76.02 L108.50,78.38 L107.59,80.73 L106.72,83.10 L105.95,85.48 L105.31,87.91 L104.75,90.36 L104.24,92.82 L103.73,95.29 L103.18,97.75 L102.55,100.17 L101.84,102.58 L101.07,104.98 L100.23,107.36 L99.34,109.72 L98.41,112.04 L97.40,114.33 L96.29,116.57 L95.09,118.78 L93.84,120.97 L92.58,123.16 L91.35,125.35 L90.18,127.59 L89.06,129.86 L87.96,132.16 L86.85,134.43 L85.67,136.65 L84.41,138.79 L83.01,140.81 L81.44,142.73 L79.73,144.59 L77.94,146.39 L76.11,148.15 L74.29,149.89 L72.48,151.64 L70.64,153.38 L68.79,155.10 L66.90,156.79 L64.98,158.43 L63.02,160.01 L61.03,161.51 L58.99,162.91 L56.87,164.22 L54.69,165.46 L52.47,166.65 L50.22,167.80 L47.96,168.94 L45.71,170.09 L43.47,171.23 L41.22,172.35 L38.97,173.47 L36.72,174.59 L34.48,175.72 L32.24,176.86 L30.00,178.00Z"/></clipPath>
<path clip-path="url(#ck)" d="M36.00,178.08L37.92,180.00M36.00,173.58L42.42,180.00M36.00,169.08L46.92,180.00M36.00,164.58L51.42,180.00M36.00,160.08L55.92,180.00M36.00,155.58L60.42,180.00M36.00,151.08L64.92,180.00M36.00,146.58L69.42,180.00M36.00,142.08L73.92,180.00M36.00,137.58L78.42,180.00M36.00,133.08L82.92,180.00M36.00,128.58L87.42,180.00M36.00,124.08L91.92,180.00M36.00,119.58L96.42,180.00M36.00,115.08L100.92,180.00M36.00,110.58L105.42,180.00M36.00,106.08L109.92,180.00M36.00,101.58L114.42,180.00M36.00,97.08L118.92,180.00M36.00,92.58L123.42,180.00M36.00,88.08L125.00,177.08M36.00,83.58L125.00,172.58M36.00,79.08L125.00,168.08M36.00,74.58L125.00,163.58M36.00,70.08L125.00,159.08M36.00,65.58L125.00,154.58M36.00,61.08L125.00,150.08M36.00,56.58L125.00,145.58M36.00,52.08L125.00,141.08M36.00,47.58L125.00,136.58M36.00,43.08L125.00,132.08M36.00,38.58L125.00,127.58M36.00,34.08L125.00,123.08M36.00,29.58L125.00,118.58M36.00,25.08L125.00,114.08M36.00,20.58L125.00,109.58M36.00,16.08L125.00,105.08M39.42,15.00L125.00,100.58M43.92,15.00L125.00,96.08M48.42,15.00L125.00,91.58M52.92,15.00L125.00,87.08M57.42,15.00L125.00,82.58M61.92,15.00L125.00,78.08M66.42,15.00L125.00,73.58M70.92,15.00L125.00,69.08M75.42,15.00L125.00,64.58M79.92,15.00L125.00,60.08M84.42,15.00L125.00,55.58M88.92,15.00L125.00,51.08M93.42,15.00L125.00,46.58M97.92,15.00L125.00,42.08M102.42,15.00L125.00,37.58M106.92,15.00L125.00,33.08M111.42,15.00L125.00,28.58M115.92,15.00L125.00,24.08M120.42,15.00L125.00,19.58M124.92,15.00L125.00,15.08M36.00,17.28L38.28,15.00M36.00,21.78L42.78,15.00M36.00,26.28L47.28,15.00M36.00,30.78L51.78,15.00M36.00,35.28L56.28,15.00M36.00,39.78L60.78,15.00M36.00,44.28L65.28,15.00M36.00,48.78L69.78,15.00M36.00,53.28L74.28,15.00M36.00,57.78L78.78,15.00M36.00,62.28L83.28,15.00M36.00,66.78L87.78,15.00M36.00,71.28L92.28,15.00M36.00,75.78L96.78,15.00M36.00,80.28L101.28,15.00M36.00,84.78L105.78,15.00M36.00,89.28L110.28,15.00M36.00,93.78L114.78,15.00M36.00,98.28L119.28,15.00M36.00,102.78L123.78,15.00M36.00,107.28L125.00,18.28M36.00,111.78L125.00,22.78M36.00,116.28L125.00,27.28M36.00,120.78L125.00,31.78M36.00,125.28L125.00,36.28M36.00,129.78L125.00,40.78M36.00,134.28L125.00,45.28M36.00,138.78L125.00,49.78M36.00,143.28L125.00,54.28M36.00,147.78L125.00,58.78M36.00,152.28L125.00,63.28M36.00,156.78L125.00,67.78M36.00,161.28L125.00,72.28M36.00,165.78L125.00,76.78M36.00,170.28L125.00,81.28M36.00,174.78L125.00,85.78M36.00,179.28L125.00,90.28M39.78,180.00L125.00,94.78M44.28,180.00L125.00,99.28M48.78,180.00L125.00,103.78M53.28,180.00L125.00,108.28M57.78,180.00L125.00,112.78M62.28,180.00L125.00,117.28M66.78,180.00L125.00,121.78M71.28,180.00L125.00,126.28M75.78,180.00L125.00,130.78M80.28,180.00L125.00,135.28M84.78,180.00L125.00,139.78M89.28,180.00L125.00,144.28M93.78,180.00L125.00,148.78M98.28,180.00L125.00,153.28M102.78,180.00L125.00,157.78M107.28,180.00L125.00,162.28M111.78,180.00L125.00,166.78M116.28,180.00L125.00,171.28M120.78,180.00L125.00,175.78" stroke="#000000" stroke-width="1.15" fill="none"/>
</g>
<rect x="37.5" y="16.5" width="335.5" height="235" fill="none" stroke="#1a1a1a" stroke-width="0.9"/>
<path d="M68.50,178.60 V183.60 M66.90,178.60 h3.20 M66.90,183.60 h3.20" stroke="#ff0000" stroke-width="1.15" fill="none"/>
<rect x="64.50" y="177.50" width="8.00" height="8.00" fill="none" stroke="#ff0000" stroke-width="1.15"/>
<path d="M107.50,168.20 V172.20 M105.90,168.20 h3.20 M105.90,172.20 h3.20" stroke="#ff0000" stroke-width="1.15" fill="none"/>
<rect x="103.50" y="166.50" width="8.00" height="8.00" fill="none" stroke="#ff0000" stroke-width="1.15"/>
<path d="M137.50,165.00 V168.60 M135.90,165.00 h3.20 M135.90,168.60 h3.20" stroke="#ff0000" stroke-width="1.15" fill="none"/>
<rect x="133.50" y="162.50" width="8.00" height="8.00" fill="none" stroke="#ff0000" stroke-width="1.15"/>
<path d="M178.50,159.50 V162.50 M176.90,159.50 h3.20 M176.90,162.50 h3.20" stroke="#ff0000" stroke-width="1.15" fill="none"/>
<rect x="174.50" y="157.50" width="8.00" height="8.00" fill="none" stroke="#ff0000" stroke-width="1.15"/>
<path d="M217.50,166.50 V169.00 M215.90,166.50 h3.20 M215.90,169.00 h3.20" stroke="#ff0000" stroke-width="1.15" fill="none"/>
<rect x="213.50" y="163.50" width="8.00" height="8.00" fill="none" stroke="#ff0000" stroke-width="1.15"/>
<path d="M253.50,181.00 V183.20 M251.90,181.00 h3.20 M251.90,183.20 h3.20" stroke="#ff0000" stroke-width="1.15" fill="none"/>
<rect x="249.50" y="178.50" width="8.00" height="8.00" fill="none" stroke="#ff0000" stroke-width="1.15"/>
<path d="M312.50,214.00 V216.20 M310.90,214.00 h3.20 M310.90,216.20 h3.20" stroke="#ff0000" stroke-width="1.15" fill="none"/>
<rect x="308.50" y="211.50" width="8.00" height="8.00" fill="none" stroke="#ff0000" stroke-width="1.15"/>
<rect x="339.40" y="223.40" width="8.20" height="8.20" fill="#ff0000" stroke="none"/>
<path d="M83.50,167.00 V173.40 M81.90,167.00 h3.20 M81.90,173.40 h3.20" stroke="#006400" stroke-width="1.15" fill="none"/>
<circle cx="83.10" cy="170.20" r="4.10" fill="none" stroke="#006400" stroke-width="1.15"/>
<path d="M107.50,158.50 V164.00 M105.90,158.50 h3.20 M105.90,164.00 h3.20" stroke="#006400" stroke-width="1.15" fill="none"/>
<circle cx="107.60" cy="161.50" r="4.10" fill="none" stroke="#006400" stroke-width="1.15"/>
<path d="M122.50,158.50 V164.00 M120.90,158.50 h3.20 M120.90,164.00 h3.20" stroke="#006400" stroke-width="1.15" fill="none"/>
<circle cx="122.00" cy="161.20" r="4.10" fill="none" stroke="#006400" stroke-width="1.15"/>
<path d="M137.50,164.00 V169.50 M135.90,164.00 h3.20 M135.90,169.50 h3.20" stroke="#006400" stroke-width="1.15" fill="none"/>
<circle cx="137.70" cy="166.80" r="4.10" fill="none" stroke="#006400" stroke-width="1.15"/>
<path d="M153.50,153.00 V158.50 M151.90,153.00 h3.20 M151.90,158.50 h3.20" stroke="#006400" stroke-width="1.15" fill="none"/>
<circle cx="153.20" cy="155.70" r="4.10" fill="none" stroke="#006400" stroke-width="1.15"/>
<path d="M178.50,141.50 V147.50 M176.90,141.50 h3.20 M176.90,147.50 h3.20" stroke="#006400" stroke-width="1.15" fill="none"/>
<circle cx="178.20" cy="144.60" r="4.10" fill="none" stroke="#006400" stroke-width="1.15"/>
<path d="M190.50,154.50 V159.70 M188.90,154.50 h3.20 M188.90,159.70 h3.20" stroke="#006400" stroke-width="1.15" fill="none"/>
<circle cx="190.30" cy="157.10" r="4.10" fill="none" stroke="#006400" stroke-width="1.15"/>
<path d="M217.50,166.00 V169.40 M215.90,166.00 h3.20 M215.90,169.40 h3.20" stroke="#006400" stroke-width="1.15" fill="none"/>
<circle cx="217.20" cy="167.70" r="4.10" fill="none" stroke="#006400" stroke-width="1.15"/>
<path d="M253.50,188.30 V190.70 M251.90,188.30 h3.20 M251.90,190.70 h3.20" stroke="#006400" stroke-width="1.15" fill="none"/>
<circle cx="253.30" cy="189.50" r="4.10" fill="none" stroke="#006400" stroke-width="1.15"/>
<path d="M278.50,201.60 V204.00 M276.90,201.60 h3.20 M276.90,204.00 h3.20" stroke="#006400" stroke-width="1.15" fill="none"/>
<circle cx="278.80" cy="202.80" r="4.10" fill="none" stroke="#006400" stroke-width="1.15"/>
<path d="M107.50,128.40 V152.00 M105.90,128.40 h3.20 M105.90,152.00 h3.20" stroke="#0000ff" stroke-width="1.15" fill="none"/>
<path d="M107.40,136.43 L103.30,143.43 L111.50,143.43 Z" fill="none" stroke="#0000ff" stroke-width="1.15"/>
<path d="M122.50,116.00 V148.10 M120.90,116.00 h3.20 M120.90,148.10 h3.20" stroke="#0000ff" stroke-width="1.15" fill="none"/>
<path d="M122.50,127.33 L118.40,134.33 L126.60,134.33 Z" fill="none" stroke="#0000ff" stroke-width="1.15"/>
<path d="M137.50,105.20 V129.00 M135.90,105.20 h3.20 M135.90,129.00 h3.20" stroke="#0000ff" stroke-width="1.15" fill="none"/>
<path d="M137.60,112.53 L133.50,119.53 L141.70,119.53 Z" fill="none" stroke="#0000ff" stroke-width="1.15"/>
<path d="M153.50,102.20 V116.00 M151.90,102.20 h3.20 M151.90,116.00 h3.20" stroke="#0000ff" stroke-width="1.15" fill="none"/>
<path d="M153.20,104.53 L149.10,111.53 L157.30,111.53 Z" fill="none" stroke="#0000ff" stroke-width="1.15"/>
<path d="M178.50,131.00 V140.00 M176.90,131.00 h3.20 M176.90,140.00 h3.20" stroke="#0000ff" stroke-width="1.15" fill="none"/>
<path d="M178.20,130.83 L174.10,137.83 L182.30,137.83 Z" fill="none" stroke="#0000ff" stroke-width="1.15"/>
<path d="M197.50,156.00 V166.40 M195.90,156.00 h3.20 M195.90,166.40 h3.20" stroke="#0000ff" stroke-width="1.15" fill="none"/>
<path d="M197.50,153.83 L193.40,160.83 L201.60,160.83 Z" fill="none" stroke="#0000ff" stroke-width="1.15"/>
<path d="M217.00,169.93 L212.90,177.53 L221.10,177.53 Z" fill="#0000ff" stroke="none"/>
<path d="M253.40,201.03 L249.30,208.63 L257.50,208.63 Z" fill="#0000ff" stroke="none"/>
<path d="M278.70,224.13 L274.60,231.73 L282.80,231.73 Z" fill="#0000ff" stroke="none"/>
<path d="M107.50,138.00 V178.00 M105.90,138.00 h3.20 M105.90,178.00 h3.20" stroke="#ff00ff" stroke-width="1.15" fill="none"/>
<path d="M107.40,163.27 L103.30,156.27 L111.50,156.27 Z" fill="none" stroke="#ff00ff" stroke-width="1.15"/>
<path d="M122.50,100.00 V138.00 M120.90,100.00 h3.20 M120.90,138.00 h3.20" stroke="#ff00ff" stroke-width="1.15" fill="none"/>
<path d="M122.50,123.47 L118.40,116.47 L126.60,116.47 Z" fill="none" stroke="#ff00ff" stroke-width="1.15"/>
<path d="M137.50,47.70 V93.00 M135.90,47.70 h3.20 M135.90,93.00 h3.20" stroke="#ff00ff" stroke-width="1.15" fill="none"/>
<path d="M137.70,74.87 L133.60,67.87 L141.80,67.87 Z" fill="none" stroke="#ff00ff" stroke-width="1.15"/>
<path d="M153.50,103.00 V148.10 M151.90,103.00 h3.20 M151.90,148.10 h3.20" stroke="#ff00ff" stroke-width="1.15" fill="none"/>
<path d="M153.00,131.67 L148.90,124.67 L157.10,124.67 Z" fill="none" stroke="#ff00ff" stroke-width="1.15"/>
<path d="M178.50,125.50 V157.30 M176.90,125.50 h3.20 M176.90,157.30 h3.20" stroke="#ff00ff" stroke-width="1.15" fill="none"/>
<path d="M178.20,146.17 L174.10,139.17 L182.30,139.17 Z" fill="none" stroke="#ff00ff" stroke-width="1.15"/>
<path d="M197.50,170.00 V195.80 M195.90,170.00 h3.20 M195.90,195.80 h3.20" stroke="#ff00ff" stroke-width="1.15" fill="none"/>
<path d="M197.50,187.87 L193.40,180.87 L201.60,180.87 Z" fill="none" stroke="#ff00ff" stroke-width="1.15"/>
<path d="M217.30,197.67 L213.20,190.07 L221.40,190.07 Z" fill="#ff00ff" stroke="none"/>
<path d="M253.40,227.97 L249.30,220.37 L257.50,220.37 Z" fill="#ff00ff" stroke="none"/>
<path d="M278.70,239.27 L274.60,231.67 L282.80,231.67 Z" fill="#ff00ff" stroke="none"/>
<path d="M320.70,36.40 H340.90 M320.70,34.80 v3.20 M340.90,34.80 v3.20" stroke="#ff0000" stroke-width="1.15" fill="none"/>
<rect x="326.50" y="32.50" width="8.00" height="8.00" fill="none" stroke="#ff0000" stroke-width="1.15"/>
<text x="312.30" y="40.60" text-anchor="end" font-size="12">H=1/27</text>
<path d="M320.70,54.30 H340.90 M320.70,52.70 v3.20 M340.90,52.70 v3.20" stroke="#006400" stroke-width="1.15" fill="none"/>
<circle cx="330.90" cy="54.30" r="4.10" fill="none" stroke="#006400" stroke-width="1.15"/>
<text x="312.30" y="58.50" text-anchor="end" font-size="12">1/40</text>
<path d="M320.70,72.20 H340.90 M320.70,70.60 v3.20 M340.90,70.60 v3.20" stroke="#0000ff" stroke-width="1.15" fill="none"/>
<path d="M330.90,67.53 L326.80,74.53 L335.00,74.53 Z" fill="none" stroke="#0000ff" stroke-width="1.15"/>
<text x="312.30" y="76.40" text-anchor="end" font-size="12">1/80</text>
<path d="M320.70,90.10 H340.90 M320.70,88.50 v3.20 M340.90,88.50 v3.20" stroke="#ff00ff" stroke-width="1.15" fill="none"/>
<path d="M330.90,94.77 L326.80,87.77 L335.00,87.77 Z" fill="none" stroke="#ff00ff" stroke-width="1.15"/>
<text x="312.30" y="94.30" text-anchor="end" font-size="12">1/160</text>
<path d="M70.00,72.00 L100.00,44.58" stroke="#000" stroke-width="1.25" fill="none"/>
<path d="M104.80,40.20 L101.42,46.13 L98.59,43.03 Z" fill="#000"/>
<path d="M69.20,80.00 L100.31,106.03" stroke="#000" stroke-width="1.25" fill="none"/>
<path d="M105.30,110.20 L98.97,107.64 L101.66,104.42 Z" fill="#000"/>
<text x="39.40" y="270" text-anchor="middle" font-size="13.6">130</text>
<text x="106.50" y="270" text-anchor="middle" font-size="13.6">140</text>
<text x="173.60" y="270" text-anchor="middle" font-size="13.6">150</text>
<text x="240.70" y="270" text-anchor="middle" font-size="13.6">160</text>
<text x="307.80" y="270" text-anchor="middle" font-size="13.6">170</text>
<text x="374.90" y="270" text-anchor="middle" font-size="13.6">180</text>
<text x="29.4" y="256.20" text-anchor="end" font-size="13.6">0</text>
<text x="29.4" y="222.63" text-anchor="end" font-size="13.6">1</text>
<text x="29.4" y="189.06" text-anchor="end" font-size="13.6">2</text>
<text x="29.4" y="155.49" text-anchor="end" font-size="13.6">3</text>
<text x="29.4" y="121.91" text-anchor="end" font-size="13.6">4</text>
<text x="29.4" y="88.34" text-anchor="end" font-size="13.6">5</text>
<text x="29.4" y="54.77" text-anchor="end" font-size="13.6">6</text>
<text x="29.4" y="21.20" text-anchor="end" font-size="13.6">7</text>
<text x="59.6" y="79.2" font-size="12.6">H=0</text>
<text font-size="17" transform="translate(176.70,40.60) skewX(12)">∂</text>
<text x="183.62" y="40.60" font-size="14">(F</text>
<text x="196.83" y="44.50" font-size="11.8">q</text>
<text x="203.39" y="40.60" font-size="14">/T)/</text>
<text font-size="17" transform="translate(224.39,40.60) skewX(12)">∂</text>
<text x="231.31" y="40.60" font-size="14">H</text>
<text x="240" y="137.5" font-size="12">hatched : w/o 1/27</text>
<text x="253.8" y="161" font-size="12">solid : w 1/27</text>
<text x="51.20" y="219.20" font-size="13.8">N</text>
<text x="61.16" y="222.60" font-size="10.5">τ</text>
<text x="65.31" y="219.20" font-size="13.8">=8</text>
<text x="97.2" y="219.2" font-size="13.8">O(2)</text>
<text x="181.3" y="242" font-size="14">T [MeV]</text>
</svg>
</body></html>
